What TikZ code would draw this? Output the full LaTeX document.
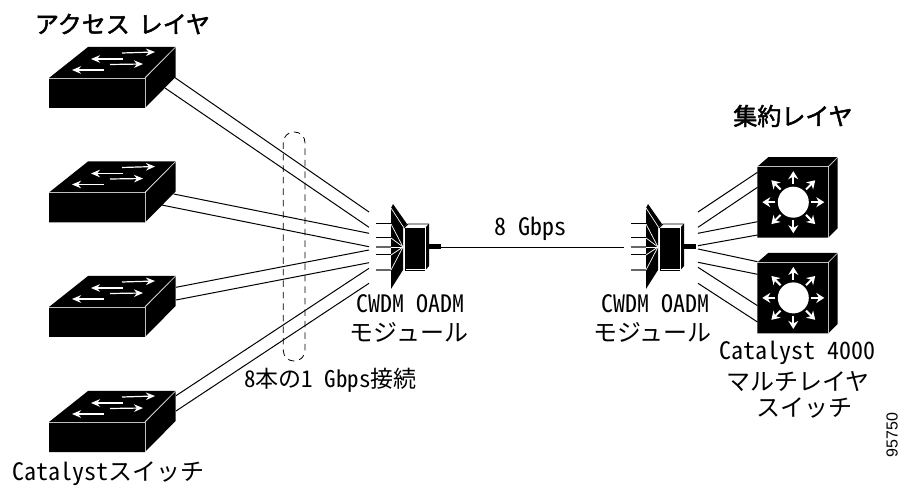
\documentclass[tikz,border=0pt]{standalone}
\usepackage{fontspec}
\usetikzlibrary{arrows.meta}
\setmainfont{Noto Sans CJK JP}
\newfontfamily\hwfont[RawFeature=+hwid]{Noto Sans CJK JP}
\newfontfamily\medfont[FakeBold=2]{Noto Sans CJK JP}
\newfontfamily\numfont{Liberation Sans}
\newcommand{\hwt}[1]{{\hwfont\spaceskip=.5em\relax #1}}
\tikzset{
  x=1pt,y=-1pt,
  link/.style={black,line width=1pt},
  lbl/.style={inner sep=0pt,font=\fontsize{24}{24}\selectfont,text=black},
  title/.style={inner sep=0pt,text=black,font=\medfont\fontsize{24}{24}\selectfont},
  whitearrow/.style={white,line width=1.2pt,-{Stealth[length=9pt,width=7.5pt]}},
  bigarrow/.style={white,line width=2pt,-{Stealth[length=8pt,width=10pt]}},
  edge/.style={white,line width=.8pt,opacity=.75},
  l2switch/.pic={
    \fill[black] (0,0)--(39,-31)--(126.6,-31)--(96,-1)--(96,30)--(0,30)--cycle;
    \fill[black] (96,30)--(126.6,-1)--(126.6,-31)--(96,0)--cycle;
    \draw[edge] (0,0)--(96,0)--(96,30);
    \draw[edge] (96,0)--(126.6,-31);
    \draw[whitearrow] (73,-25)--(106,-26);
    \draw[whitearrow] (74,-19)--(42,-19);
    \draw[whitearrow] (61,-13.5)--(94,-14);
    \draw[whitearrow] (55,-8)--(23,-8);
  },
  l3switch/.pic={
    \fill[black] (0,0)--(11,-9.5)--(80.4,-9.5)--(80.4,61.5)--(71,71)--(0,71)--cycle;
    \draw[edge] (0,0)--(71,0)--(71,71);
    \draw[edge] (71,0)--(80.4,-9.5);
    \foreach \a in {0,45,...,315}{
      \draw[bigarrow] (36,35.5)++(\a:18)--++(\a:13);
    }
    \fill[white] (36,35.5) circle[radius=15.5];
  },
  oadm/.pic={
    % stubs
    \draw[black,line width=1pt] (-29,-23)--(-14,-23);
    \draw[black,line width=1pt] (-29,-9)--(-14,-9);
    \draw[black!60,line width=1.3pt] (-29,0)--(-14,0);
    \draw[black,line width=1pt] (-29,8)--(-14,8);
    \draw[black!60,line width=1.3pt] (-29,23)--(-14,23);
    % panel
    \fill[black] (-14,-39)--(-12,-43)--(2,-23)--(-2,-19)--(-2,23)--(-14,42)--cycle;
    \draw[white,line width=.7pt] (-14,-39)--(-1,-19);
    \foreach \yy in {-23,-9,0,8,23}{\draw[white,line width=.7pt] (-14,\yy)--(-2,0);}
    % body
    \fill[white] (-1,-19)--(3,-23)--(24,-23)--(24,19)--(20,23)--(-1,23)--cycle;
    \draw[black,line width=.9pt] (-1,-19)--(3,-23)--(23.5,-23);
    \draw[black,line width=.9pt] (0,-19)--(0,23)--(20,23);
    \fill[black] (1,-19)--(19.5,-19)--(19.5,22)--(1,22)--cycle;
    \fill[black] (21,-20)--(24,-23.5)--(24,19)--(21,22.5)--cycle;
    % pigtail
    \fill[black] (21,-2.5)--(36,-2.5)--(36,2.5)--(21,2.5)--cycle;
  },
}
\begin{document}
\begin{tikzpicture}
\useasboundingbox (0,0) rectangle (900,486);

% end points of the fibres
\coordinate (a1) at (174,77);   \coordinate (b1) at (369,212);
\coordinate (a2) at (165,88);   \coordinate (b2) at (369,227.3);
\coordinate (a3) at (173.7,194);\coordinate (b3) at (369,233.3);
\coordinate (a4) at (161.7,205);\coordinate (b4) at (369,246.7);
\coordinate (a5) at (176,287.3);\coordinate (b5) at (369,250);
\coordinate (a6) at (176,300);  \coordinate (b6) at (369,262.7);
\coordinate (a7) at (176,395.7);\coordinate (b7) at (369,268.3);
\coordinate (a8) at (176,411);  \coordinate (b8) at (369,283.3);
\coordinate (c1) at (698,212);  \coordinate (d1) at (757.5,172.3);
\coordinate (c2) at (698,227.3);\coordinate (d2) at (757.5,187.3);
\coordinate (c3) at (698,233.3);\coordinate (d3) at (757.5,221.7);
\coordinate (c4) at (698,245.7);\coordinate (d4) at (757.5,235);
\coordinate (c5) at (698,249);  \coordinate (d5) at (757.5,261.7);
\coordinate (c6) at (698,262.3);\coordinate (d6) at (757.5,274.3);
\coordinate (c7) at (698,267.3);\coordinate (d7) at (757.5,305.7);
\coordinate (c8) at (698,283.3);\coordinate (d8) at (757.5,322);
\coordinate (pl) at (441,247.3);\coordinate (pr) at (624,247.3);

\foreach \i in {1,...,8}{
  \draw[link] (a\i)--(b\i);
  \draw[link] (c\i)--(d\i);
}
\draw[link] (pl)--(pr);

\draw[black,line width=.8pt,dash pattern=on 6.5pt off 5pt,rounded corners=10.5pt]
  (283.3,132) rectangle (305,361);

\pic at (49,78) {l2switch};
\pic at (49,192.5) {l2switch};
\pic at (49,307) {l2switch};
\pic at (49,422) {l2switch};
\pic at (757.3,166.7) {l3switch};
\pic at (757.3,262.4) {l3switch};
\pic at (405,247) {oadm};
\begin{scope}[xscale=-1,shift={(-1065,0)}]
\pic at (405,247) {oadm};
\end{scope}

\node[title] (t1) at (122.5,24) {アクセス\hspace{9pt}レイヤ};
\node[title] (t2) at (793,116) {集約レイヤ};
\node[lbl] (t3) at (410,303.5) {\hwt{CWDM OADM}};
\node[lbl] (t4) at (409,332) {モジュール};
\node[lbl] (t5) at (530,229) {\hwt{8 Gbps}};
\node[lbl] (t6) at (655,303.5) {\hwt{CWDM OADM}};
\node[lbl] (t7) at (652.5,332) {モジュール};
\node[lbl,font=\fontsize{23}{23}\selectfont] (t8) at (330.5,380) {\hwt{8}本の\hwt{1 Gbps}接続};
\node[lbl] (t9) at (797,353) {\hwt{Catalyst 4000}};
\node[lbl] (t10) at (798,382) {マルチレイヤ};
\node[lbl] (t11) at (804,408) {スイッチ};
\node[lbl] (t12) at (108.5,474) {\hwt{Catalyst}スイッチ};
\node[inner sep=0pt,rotate=90,font=\numfont\fontsize{16}{16}\selectfont] (t13) at (892,435) {95750};
\end{tikzpicture}
\end{document}
